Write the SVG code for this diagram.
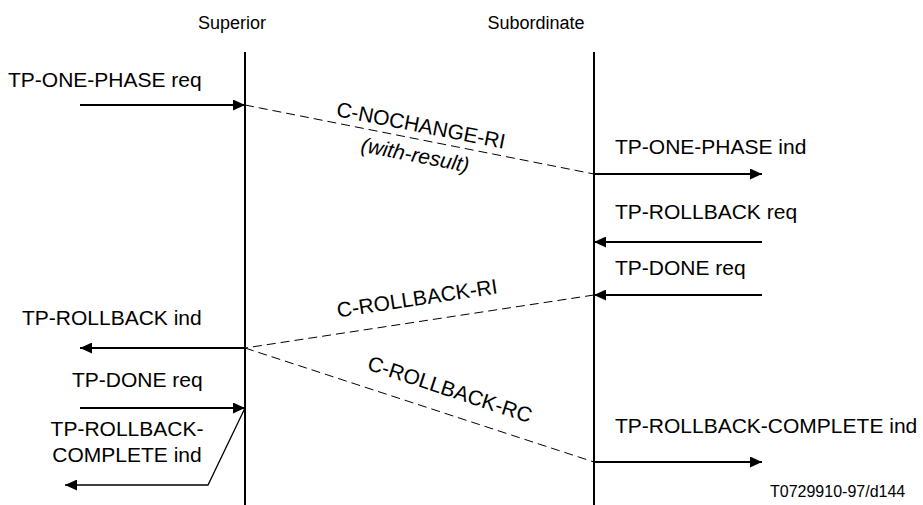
<svg xmlns="http://www.w3.org/2000/svg" width="923" height="505" viewBox="0 0 923 505">
<style>
  text { font-family: "Liberation Sans", Arial, sans-serif; fill: #000; }
  .lbl { font-size: 21px; }
  .hdr { font-size: 18px; }
  .fig { font-size: 16px; }
  .life { stroke: #000; stroke-width: 2; fill: none; }
  .msg { stroke: #000; stroke-width: 2; fill: none; }
  .thin { stroke: #000; stroke-width: 1.3; fill: none; }
  .dash { stroke: #000; stroke-width: 1; fill: none; stroke-dasharray: 9 5; }
</style>
<defs>
  <marker id="ah" markerUnits="userSpaceOnUse" markerWidth="12" markerHeight="11" refX="12" refY="5.5" orient="auto">
    <path d="M0,0 L12,5.5 L0,11 z" fill="#000"/>
  </marker>
</defs>
<rect width="923" height="505" fill="#fff"/>

<g id="superior">
  <text class="hdr" x="232" y="29" text-anchor="middle">Superior</text>
  <line class="life" x1="245" y1="52" x2="245" y2="505"/>
</g>
<g id="subordinate">
  <text class="hdr" x="536" y="29" text-anchor="middle">Subordinate</text>
  <line class="life" x1="594" y1="52" x2="594" y2="505"/>
</g>

<g id="connectors">
  <g id="tp-one-phase-req">
    <text class="lbl" x="8" y="87">TP-ONE-PHASE req</text>
    <line class="msg" x1="80" y1="105" x2="245" y2="105" marker-end="url(#ah)"/>
  </g>
  <g id="c-nochange-ri">
    <line class="dash" x1="245" y1="105" x2="594" y2="174"/>
    <text class="lbl" transform="translate(421,125) rotate(11.03)" y="7.5" text-anchor="middle">C-NOCHANGE-RI</text>
    <text class="lbl" font-style="italic" transform="translate(415,156) rotate(11.03)" y="6" text-anchor="middle">(with-result)</text>
  </g>
  <g id="tp-one-phase-ind">
    <text class="lbl" x="615" y="154">TP-ONE-PHASE ind</text>
    <line class="msg" x1="594" y1="174" x2="762" y2="174" marker-end="url(#ah)"/>
  </g>
  <g id="tp-rollback-req">
    <text class="lbl" x="615" y="219">TP-ROLLBACK req</text>
    <line class="msg" x1="762" y1="242" x2="594" y2="242" marker-end="url(#ah)"/>
  </g>
  <g id="tp-done-req-sub">
    <text class="lbl" x="615" y="275">TP-DONE req</text>
    <line class="msg" x1="762" y1="295" x2="594" y2="295" marker-end="url(#ah)"/>
  </g>
  <g id="c-rollback-ri">
    <line class="dash" x1="594" y1="295" x2="245" y2="348"/>
    <text class="lbl" transform="translate(417,298) rotate(-8.64)" y="7.5" text-anchor="middle">C-ROLLBACK-RI</text>
  </g>
  <g id="tp-rollback-ind">
    <text class="lbl" x="22" y="325">TP-ROLLBACK ind</text>
    <line class="msg" x1="245" y1="348" x2="80" y2="348" marker-end="url(#ah)"/>
  </g>
  <g id="c-rollback-rc">
    <line class="dash" x1="245" y1="348" x2="594" y2="462"/>
    <text class="lbl" transform="translate(450,389) rotate(18.24)" y="7.5" text-anchor="middle">C-ROLLBACK-RC</text>
  </g>
  <g id="tp-done-req-sup">
    <text class="lbl" x="72" y="387">TP-DONE req</text>
    <line class="msg" x1="80" y1="408" x2="245" y2="408" marker-end="url(#ah)"/>
  </g>
  <g id="tp-rollback-complete-ind-sup">
    <text class="lbl" x="127" y="436" text-anchor="middle">TP-ROLLBACK-</text>
    <text class="lbl" x="127" y="462" text-anchor="middle">COMPLETE ind</text>
    <polyline class="thin" points="245,408 208,485 65,485" marker-end="url(#ah)"/>
  </g>
  <g id="tp-rollback-complete-ind-sub">
    <text class="lbl" x="615" y="433">TP-ROLLBACK-COMPLETE ind</text>
    <line class="msg" x1="594" y1="462" x2="762" y2="462" marker-end="url(#ah)"/>
  </g>
</g>
<text class="fig" x="770" y="497">T0729910-97/d144</text>
</svg>
